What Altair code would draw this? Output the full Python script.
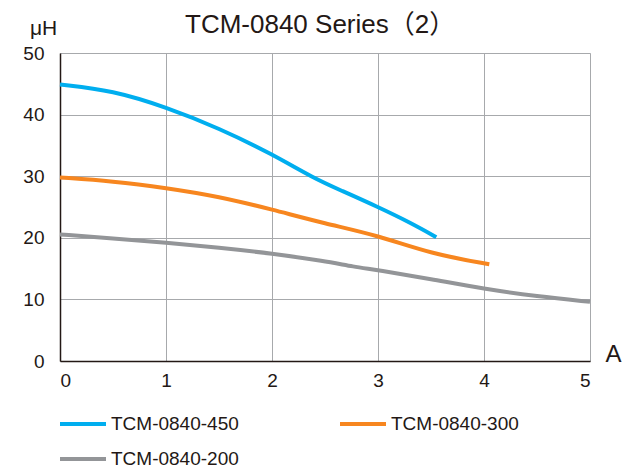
import altair as alt
import pandas as pd

series_names = ["TCM-0840-450", "TCM-0840-300", "TCM-0840-200"]
colors = ["#00aeef", "#f7861f", "#939598"]

x450 = [0, 0.5, 1.0, 1.5, 2.0, 2.4, 2.65, 3.0, 3.3, 3.55]
y450 = [44.9, 43.9, 41.2, 37.8, 33.6, 29.6, 27.7, 25.0, 22.5, 20.1]

x300 = [0, 0.5, 1.0, 1.5, 2.0, 2.5, 3.0, 3.5, 4.05]
y300 = [29.8, 29.2, 28.1, 26.7, 24.6, 22.3, 20.4, 17.4, 15.7]

x200 = [0, 0.5, 1.0, 1.5, 2.0, 2.5, 2.77, 3.0, 3.5, 4.0, 4.5, 5.0]
y200 = [20.55, 19.9, 19.2, 18.4, 17.45, 16.2, 15.3, 14.75, 13.3, 11.7, 10.5, 9.6]

rows = []
for name, xs, ys in [(series_names[0], x450, y450), (series_names[1], x300, y300), (series_names[2], x200, y200)]:
    for i, (a, b) in enumerate(zip(xs, ys)):
        rows.append({"series": name, "A": a, "uH": b, "i": i})
df = pd.DataFrame(rows)

FONT = "Liberation Sans, Noto Sans CJK JP"

chart = alt.Chart(df, title=alt.Title(
    "TCM-0840 Series（2）", font=FONT, fontSize=26, fontWeight="normal",
    color="#231815", anchor="start", frame="group", dx=125, offset=-21,
)).mark_line(strokeWidth=4, interpolate="basis").encode(
    x=alt.X("A:Q", scale=alt.Scale(domain=[0, 5], nice=False),
            axis=alt.Axis(values=[0, 1, 2, 3, 4, 5], title="A", titleAngle=0,
                          titleX=553, titleY=0, titleAlign="center", titleBaseline="alphabetic",
                          titleFontSize=24, titleFontWeight="normal", titleColor="#231815", titleFont=FONT,
                          labelFontSize=19, labelFont=FONT, labelColor="#231815", labelPadding=10,
                          tickSize=0, domainColor="#231815", domainWidth=1.5,
                          gridColor="#a7a9ac", gridWidth=1)),
    y=alt.Y("uH:Q", scale=alt.Scale(domain=[0, 50], nice=False),
            axis=alt.Axis(values=[0, 10, 20, 30, 40, 50], title="μH", titleAngle=0,
                          titleX=-17, titleY=-19, titleAlign="center", titleBaseline="alphabetic",
                          titleFontSize=21, titleFontWeight="normal", titleColor="#231815", titleFont=FONT,
                          labelFontSize=19, labelFont=FONT, labelColor="#231815", labelPadding=16,
                          tickSize=0, domainColor="#231815", domainWidth=1.5,
                          gridColor="#a7a9ac", gridWidth=1)),
    color=alt.Color("series:N", scale=alt.Scale(domain=series_names, range=colors),
                    legend=alt.Legend(orient="none", legendX=-2, legendY=346, columns=2,
                                      direction="horizontal",
                                      title=None, symbolType="stroke", symbolSize=2116,
                                      symbolStrokeWidth=4, labelFontSize=19, labelFont=FONT,
                                      labelColor="#231815", labelOffset=3, columnPadding=93,
                                      rowPadding=-16, labelLimit=300)),
    order="i:Q",
).properties(
    width=530, height=308,
    autosize="none",
    padding={"left": 52, "top": 45, "right": 35, "bottom": 110},
).configure_view(stroke="#231815", strokeWidth=1.5).configure(background="white")

chart.save("out.html", embed_options={"renderer": "svg", "actions": False})
